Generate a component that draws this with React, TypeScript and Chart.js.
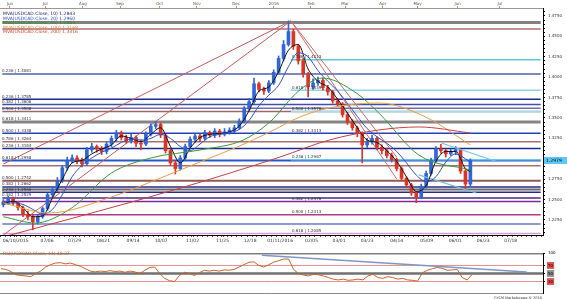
import React, { useEffect, useRef } from "react";
import { Chart, registerables } from "chart.js";

Chart.register(...registerables);

// ---------- data ----------
const candleOpen = [
  1.2440, 1.2470, 1.2510, 1.2460, 1.2400, 1.2320, 1.2290, 1.2230, 1.2290, 1.2390,
  1.2560, 1.2620, 1.2730, 1.2890, 1.2980, 1.3010, 1.2980, 1.2940, 1.3110, 1.3150,
  1.3120, 1.3090, 1.3180, 1.3250, 1.3320, 1.3260, 1.3220, 1.3260, 1.3190, 1.3180,
  1.3300, 1.3400, 1.3420, 1.3290, 1.3100, 1.2950, 1.2880, 1.3010, 1.3150, 1.3240,
  1.3280, 1.3250, 1.3320, 1.3290, 1.3340, 1.3300, 1.3330, 1.3350, 1.3380, 1.3460,
  1.3610, 1.3700, 1.3920, 1.3850, 1.3830, 1.3930, 1.4060, 1.4230, 1.4400, 1.4560,
  1.4380, 1.4200, 1.4040, 1.3880, 1.3930, 1.3960, 1.3870, 1.3820, 1.3710, 1.3670,
  1.3540, 1.3450, 1.3380, 1.3310, 1.3170, 1.3210, 1.3250, 1.3140, 1.3100, 1.3040,
  1.2990, 1.2880, 1.2760, 1.2680, 1.2580, 1.2530, 1.2660, 1.2820, 1.2980, 1.3120,
  1.3100, 1.3060, 1.3090, 1.3110, 1.2850, 1.2690,
];
const candleHigh = [
  1.2500, 1.2540, 1.2530, 1.2480, 1.2420, 1.2360, 1.2310, 1.2320, 1.2410, 1.2580,
  1.2660, 1.2770, 1.2920, 1.3020, 1.3050, 1.3040, 1.3010, 1.3140, 1.3190, 1.3170,
  1.3150, 1.3210, 1.3280, 1.3350, 1.3340, 1.3290, 1.3300, 1.3280, 1.3230, 1.3330,
  1.3430, 1.3456, 1.3440, 1.3310, 1.3120, 1.2980, 1.3040, 1.3180, 1.3270, 1.3310,
  1.3300, 1.3350, 1.3340, 1.3370, 1.3360, 1.3370, 1.3380, 1.3410, 1.3490, 1.3640,
  1.3740, 1.3990, 1.3940, 1.3880, 1.3960, 1.4090, 1.4260, 1.4450, 1.4690, 1.4590,
  1.4400, 1.4230, 1.4060, 1.3980, 1.4000, 1.3990, 1.3900, 1.3840, 1.3740, 1.3690,
  1.3570, 1.3480, 1.3400, 1.3330, 1.3250, 1.3290, 1.3270, 1.3170, 1.3130, 1.3070,
  1.3010, 1.2900, 1.2780, 1.2700, 1.2600, 1.2690, 1.2850, 1.3010, 1.3150, 1.3176,
  1.3120, 1.3120, 1.3150, 1.3120, 1.2870, 1.3000,
];
const candleLow = [
  1.2410, 1.2440, 1.2430, 1.2370, 1.2290, 1.2250, 1.2130, 1.2200, 1.2270, 1.2370,
  1.2530, 1.2600, 1.2710, 1.2860, 1.2950, 1.2940, 1.2900, 1.2920, 1.3080, 1.3080,
  1.3050, 1.3060, 1.3150, 1.3220, 1.3230, 1.3190, 1.3190, 1.3150, 1.3110, 1.3160,
  1.3280, 1.3370, 1.3260, 1.3070, 1.2920, 1.2813, 1.2860, 1.2990, 1.3120, 1.3200,
  1.3210, 1.3230, 1.3260, 1.3260, 1.3270, 1.3280, 1.3300, 1.3320, 1.3360, 1.3440,
  1.3590, 1.3680, 1.3820, 1.3790, 1.3810, 1.3910, 1.4040, 1.4200, 1.4380, 1.4340,
  1.4160, 1.4000, 1.3757, 1.3850, 1.3900, 1.3840, 1.3780, 1.3680, 1.3640, 1.3510,
  1.3420, 1.3350, 1.3270, 1.2950, 1.3140, 1.3180, 1.3110, 1.3060, 1.3010, 1.2960,
  1.2850, 1.2730, 1.2650, 1.2550, 1.2461, 1.2510, 1.2640, 1.2800, 1.2960, 1.3070,
  1.3020, 1.3040, 1.3050, 1.2820, 1.2617, 1.2670,
];
const candleClose = [
  1.2470, 1.2510, 1.2460, 1.2400, 1.2320, 1.2290, 1.2230, 1.2290, 1.2390, 1.2560,
  1.2620, 1.2730, 1.2890, 1.2980, 1.3010, 1.2980, 1.2940, 1.3110, 1.3150, 1.3120,
  1.3090, 1.3180, 1.3250, 1.3320, 1.3260, 1.3220, 1.3260, 1.3190, 1.3180, 1.3300,
  1.3400, 1.3420, 1.3290, 1.3100, 1.2950, 1.2880, 1.3010, 1.3150, 1.3240, 1.3280,
  1.3250, 1.3320, 1.3290, 1.3340, 1.3300, 1.3330, 1.3350, 1.3380, 1.3460, 1.3610,
  1.3700, 1.3920, 1.3850, 1.3830, 1.3930, 1.4060, 1.4230, 1.4400, 1.4560, 1.4380,
  1.4200, 1.4040, 1.3880, 1.3930, 1.3960, 1.3870, 1.3820, 1.3710, 1.3670, 1.3540,
  1.3450, 1.3380, 1.3310, 1.3170, 1.3210, 1.3250, 1.3140, 1.3100, 1.3040, 1.2990,
  1.2880, 1.2760, 1.2680, 1.2580, 1.2530, 1.2660, 1.2820, 1.2980, 1.3120, 1.3100,
  1.3060, 1.3090, 1.3110, 1.2850, 1.2690, 1.2979,
];

// moving averages
const maShortK = [
  0, 2, 4, 6, 8, 10, 12, 14, 16, 18, 20, 22, 24, 26, 28, 30, 32, 34, 36, 38,
  40, 42, 44, 46, 48, 50, 52, 54, 56, 58, 60, 62, 64, 66, 68, 70, 72, 74, 76, 78,
  80, 82, 84, 86, 88, 90, 92, 94, 95,
];
const ma10 = [
  1.2450, 1.2480, 1.2400, 1.2290, 1.2300, 1.2520, 1.2750, 1.2950, 1.2980, 1.3060,
  1.3120, 1.3170, 1.3280, 1.3250, 1.3210, 1.3300, 1.3380, 1.3150, 1.2950, 1.3130,
  1.3260, 1.3300, 1.3310, 1.3330, 1.3400, 1.3590, 1.3830, 1.3880, 1.4070, 1.4330,
  1.4400, 1.4100, 1.3950, 1.3880, 1.3730, 1.3560, 1.3380, 1.3230, 1.3200, 1.3100,
  1.2970, 1.2780, 1.2600, 1.2670, 1.2970, 1.3090, 1.3090, 1.2880, 1.2843,
];
const ma20 = [
  1.2440, 1.2460, 1.2440, 1.2380, 1.2320, 1.2380, 1.2560, 1.2780, 1.2920, 1.3010,
  1.3080, 1.3130, 1.3200, 1.3240, 1.3230, 1.3250, 1.3300, 1.3250, 1.3150, 1.3100,
  1.3180, 1.3270, 1.3300, 1.3320, 1.3360, 1.3470, 1.3650, 1.3780, 1.3900, 1.4130,
  1.4300, 1.4250, 1.4080, 1.3950, 1.3830, 1.3680, 1.3520, 1.3370, 1.3270, 1.3190,
  1.3090, 1.2950, 1.2800, 1.2720, 1.2780, 1.2960, 1.3060, 1.3000, 1.2960,
];
const ma55K = [0, 6.5, 13.9, 22, 30, 40, 48.8, 54.2, 60.3, 64.9, 71.8, 76.4, 84.5, 95];
const ma55 = [1.2290, 1.2213, 1.2397, 1.2826, 1.3010, 1.3108, 1.3230, 1.3450, 1.3843, 1.3990, 1.3806, 1.3560, 1.3047, 1.2863];
const ma100K = [0, 9.3, 22, 32, 40, 47.6, 54.2, 60.3, 66.3, 76.4, 85.9, 95];
const ma100 = [1.2458, 1.2336, 1.2532, 1.2765, 1.2961, 1.3145, 1.3328, 1.3512, 1.3623, 1.3684, 1.3512, 1.3169];
const ma200K = [0, 18, 36.1, 56.3, 66.3, 76.4, 84.5, 95];
const ma200 = [1.2042, 1.2336, 1.2642, 1.3022, 1.3230, 1.3353, 1.3390, 1.3316];

// horizontal levels spanning the whole chart
const fullLevels = [
  1.4670, 1.4590, 1.4040, 1.3730, 1.3665, 1.3620, 1.3580, 1.3451, 1.3313, 1.3210,
  1.3125, 1.2978, 1.2915, 1.2730, 1.2655, 1.2625, 1.2590, 1.2520, 1.2476, 1.2313,
  1.2200, 1.2085,
];
// retracement levels starting at the January peak
const midLevels = [1.4213, 1.3839, 1.3576, 1.2987];
const peakK = 58.5;

// fibonacci labels
const leftFibLevels = [1.4040, 1.3730, 1.3665, 1.3580, 1.3451, 1.3313, 1.3210, 1.3125, 1.2978, 1.2730, 1.2655, 1.2590, 1.2520];
const leftFibTexts = [
  "0.236 | 1.4081", "0.236 | 1.3785", "0.382 | 1.3606", "0.500 | 1.3508", "0.618 | 1.3411",
  "0.500 | 1.3338", "0.786 | 1.3264", "0.236 | 1.3184", "0.618 | 1.2958", "0.500 | 1.2742",
  "0.382 | 1.2662", "0.236 | 1.2560", "0.382 | 1.2529",
];
const midFibLevels = [1.4213, 1.3839, 1.3576, 1.3313, 1.2987, 1.2476, 1.2313, 1.2085];
const midFibTexts = [
  "0.786 | 1.4213", "0.618 | 1.3839", "0.500 | 1.3576", "0.382 | 1.3313",
  "0.236 | 1.2987", "0.382 | 1.2476", "0.500 | 1.2313", "0.618 | 1.2085",
];

// trend lines (pairs of points: candle index, price)
const fanA = [[0, 1.2935], [58.5, 1.4690]];
const fanB = [[0, 1.2065], [58.5, 1.4690]];
const fanD1 = [[58.5, 1.4690], [80, 1.3022]];
const fanD2 = [[58.5, 1.4690], [80, 1.2753]];
const channelUpper = [[89.1, 1.3194], [100.6, 1.2961]];
const channelLower = [[84.5, 1.2802], [96.2, 1.2581]];

const lastPrice = 1.2979;

const legendTexts = [
  "MVA(USDCAD.Close, 10) 1.2843",
  "MVA(USDCAD.Close, 20) 1.2960",
  "MVA(USDCAD.Close, 55) 1.2863",
  "MVA(USDCAD.Close, 100) 1.3169",
  "MVA(USDCAD.Close, 200) 1.3316",
];

// axes
const topTickK = [1.8, 8.9, 16.5, 24, 32, 39.5, 47.4, 55, 62.5, 69.4, 77, 84, 92.1, 100.6];
const topTickLabels = ["Jun", "Jul", "Aug", "Sep", "Oct", "Nov", "Dec", "2016", "Feb", "Mar", "Apr", "May", "Jun", "Jul"];
const bottomTickK = [2.5, 8.9, 14.5, 20.4, 26.4, 32.1, 38.5, 44.6, 50.2, 56.3, 62.7, 68.3, 74.0, 80.0, 86.1, 91.9, 97.6, 103.2];
const bottomTickLabels = [
  "06/10/2015", "07/06", "07/29", "08/21", "09/14", "10/07", "11/02", "11/25", "12/18",
  "01/11/2016", "02/05", "03/01", "03/23", "04/14", "05/09", "06/01", "06/23", "07/18",
];
const priceTicks = [1.225, 1.25, 1.275, 1.3, 1.325, 1.35, 1.375, 1.4, 1.425, 1.45, 1.475];

// RSI
const rsi = [
  62, 60, 55, 47, 45, 44, 42, 50, 56, 66,
  72, 76, 77, 74, 76, 72, 68, 62, 56, 54,
  56, 55, 57, 55, 56, 53, 56, 54, 50, 58,
  65, 66, 50, 38, 32, 30, 45, 53, 50, 45,
  52, 58, 56, 58, 56, 59, 58, 60, 66, 72,
  78, 79, 70, 66, 72, 78, 82, 86, 86, 60,
  50, 46, 44, 48, 47, 44, 40, 36, 34, 36,
  33, 34, 36, 34, 44, 48, 40, 38, 42, 40,
  36, 38, 34, 33, 31, 52, 58, 62, 65, 63,
  58, 59, 60, 40, 34, 48,
];
const rsiLevels = [100, 70, 50, 30, 0];
const rsiTicks = [100, 70, 50, 30];
const rsiTrend = [[52.6, 95.3], [106, 53.5]];
const rsiTitle = "RSI(USDCAD.Close, 14) 48.37";

// ---------- styles ----------
const X_MIN = -0.2;
const X_MAX = 109.3;
const Y_MIN = 1.2066;
const Y_MAX = 1.4848;
const FONT = '"DejaVu Sans", sans-serif';
const UP = "#2f66d8";
const DOWN = "#dc3424";

const fullLevelColors = [
  "#808080", "#b07070", "#5060b0", "#1a2a90", "#4050a8", "#7070a8", "#9a6a6a", "#858585",
  "#2a40b8", "#a87272", "#1a2a90", "#2858c8", "#a87272", "#905a5a", "#2a2a8a", "#6a6a6a",
  "#2a2a8a", "#4a2a8a", "#7a2a90", "#b03a8a", "#6a7ac8", "#d8a0d8",
];
const fullLevelWidths = [3, 1.5, 1.5, 1.5, 1.5, 1.5, 1.5, 3, 1.5, 1.5, 1.5, 2, 1.5, 2, 1.5, 2, 1.5, 1.5, 1.5, 1.5, 1.5, 1.5];
const midLevelColors = ["#5cc8e0", "#8ad8ea", "#9ee0f0", "#6cc8e4"];
const legendColors = ["#1a1a70", "#2a4ad0", "#2a8a2a", "#d08a30", "#d04030"];
const rsiLevelColors = ["#000000", "#e09090", "#707070", "#e09090", "#000000"];
const rsiLevelWidths = [1.5, 1, 2.5, 1, 1];
const rsiTickBg = ["#ffffff", "#e05050", "#909090", "#e05050"];

function seg(points: number[][], color: string, width: number, order: number) {
  return {
    type: "line",
    data: points.map((p) => ({ x: p[0], y: p[1] })),
    borderColor: color,
    borderWidth: width,
    pointRadius: 0,
    fill: false,
    order,
  };
}

function curve(ks: number[], vals: number[], color: string, width: number) {
  return {
    type: "line",
    data: ks.map((k, i) => ({ x: k, y: vals[i] })),
    borderColor: color,
    borderWidth: width,
    pointRadius: 0,
    fill: false,
    cubicInterpolationMode: "monotone",
    order: 1,
  };
}

const mainTextPlugin = {
  id: "mainTexts",
  afterDatasetsDraw(chart: any) {
    const { ctx, chartArea } = chart;
    const x = chart.scales.x;
    const y = chart.scales.y;
    ctx.save();
    ctx.textBaseline = "alphabetic";
    ctx.textAlign = "left";
    ctx.font = `4px ${FONT}`;
    ctx.fillStyle = "#333";
    leftFibLevels.forEach((v, i) => {
      ctx.fillText(leftFibTexts[i], chartArea.left + 2, y.getPixelForValue(v) - 1.5);
    });
    midFibLevels.forEach((v, i) => {
      ctx.fillText(midFibTexts[i], x.getPixelForValue(peakK) + 1, y.getPixelForValue(v) - 1.5);
    });
    ctx.font = `4.5px ${FONT}`;
    legendTexts.forEach((t, i) => {
      ctx.fillStyle = legendColors[i];
      ctx.fillText(t, chartArea.left + 3, chartArea.top + 7 + i * 4.6);
    });
    // current price box on the axis
    const py = y.getPixelForValue(lastPrice);
    ctx.fillStyle = "#5cc8f5";
    ctx.fillRect(chartArea.right + 1, py - 3.5, chart.width - chartArea.right - 1, 7);
    ctx.fillStyle = "#000";
    ctx.font = `4.5px ${FONT}`;
    ctx.textBaseline = "middle";
    ctx.fillText(lastPrice.toFixed(4), chartArea.right + 3, py + 0.3);
    ctx.restore();
  },
};

const rsiTextPlugin = {
  id: "rsiTexts",
  afterDatasetsDraw(chart: any) {
    const { ctx, chartArea } = chart;
    ctx.save();
    ctx.font = `4.5px ${FONT}`;
    ctx.fillStyle = "#c0602a";
    ctx.textBaseline = "alphabetic";
    ctx.fillText(rsiTitle, chartArea.left + 3, chartArea.top + 1.5);
    ctx.font = `3.5px ${FONT}`;
    ctx.fillStyle = "#333";
    ctx.textAlign = "right";
    ctx.fillText("FXCM Marketscope \u00a9 2016", chartArea.right - 1, chart.height - 0.5);
    ctx.restore();
  },
};

function mainConfig(): any {
  const datasets: any[] = [];
  fullLevels.forEach((v, i) => {
    datasets.push(seg([[X_MIN, v], [X_MAX, v]], fullLevelColors[i], fullLevelWidths[i], 10));
  });
  midLevels.forEach((v, i) => {
    datasets.push(seg([[peakK, v], [X_MAX, v]], midLevelColors[i], 1.5, 9));
  });
  datasets.push(seg(fanA, "#cc5a5a", 1, 8));
  datasets.push(seg(fanB, "#cc5a5a", 1, 8));
  datasets.push(seg(fanD1, "#d06a6a", 1, 8));
  datasets.push(seg(fanD2, "#d06a6a", 1, 8));
  datasets.push(seg(channelUpper, "#6cc8e0", 1.2, 2));
  datasets.push(seg(channelLower, "#6cc8e0", 1.2, 2));
  const colors = candleClose.map((c, i) => (c >= candleOpen[i] ? UP : DOWN));
  datasets.push({
    type: "bar",
    data: candleHigh.map((h, i) => ({ x: i, y: [candleLow[i], h] })),
    backgroundColor: colors,
    barThickness: 1,
    grouped: false,
    borderWidth: 0,
    order: 4,
  });
  datasets.push({
    type: "bar",
    data: candleOpen.map((o, i) => ({ x: i, y: [o, candleClose[i]] })),
    backgroundColor: colors,
    barThickness: 3,
    grouped: false,
    borderWidth: 0,
    order: 3,
  });
  datasets.push(curve(ma200K, ma200, "#c84040", 1));
  datasets.push(curve(ma100K, ma100, "#e8a040", 1));
  datasets.push(curve(ma55K, ma55, "#3a9a3a", 1));
  datasets.push(curve(maShortK, ma20, "#3050d0", 1));
  datasets.push(curve(maShortK, ma10, "#111111", 1));

  return {
    type: "line",
    data: { datasets },
    plugins: [mainTextPlugin],
    options: {
      responsive: false,
      maintainAspectRatio: false,
      animation: false,
      devicePixelRatio: 1,
      events: [],
      layout: { padding: 0 },
      plugins: { legend: { display: false }, tooltip: { enabled: false } },
      scales: {
        x: {
          type: "linear",
          position: "bottom",
          min: X_MIN,
          max: X_MAX,
          afterBuildTicks: (s: any) => {
            const t: any[] = [];
            for (let k = 0; k <= 109; k++) {
              if (!bottomTickK.some((b) => Math.abs(b - k) < 0.3)) t.push({ value: k });
            }
            bottomTickK.forEach((v) => t.push({ value: v }));
            t.sort((a, b) => a.value - b.value);
            s.ticks = t;
          },
          afterFit: (s: any) => {
            s.height = 13;
          },
          ticks: {
            autoSkip: false,
            maxRotation: 0,
            padding: 1,
            color: "#333",
            font: { size: 4.5, family: FONT },
            callback: (v: number) => {
              const i = bottomTickK.indexOf(v);
              return i >= 0 ? bottomTickLabels[i] : "";
            },
          },
          grid: { drawOnChartArea: false, drawTicks: true, tickLength: 2, color: "#555" },
          border: { display: true, color: "#000", width: 1 },
        },
        xTop: {
          type: "linear",
          position: "top",
          min: X_MIN,
          max: X_MAX,
          afterBuildTicks: (s: any) => {
            s.ticks = topTickK.map((v) => ({ value: v }));
          },
          afterFit: (s: any) => {
            s.height = 8;
          },
          ticks: {
            autoSkip: false,
            maxRotation: 0,
            padding: 0,
            color: "#555",
            font: { size: 4, family: FONT },
            callback: (_v: number, i: number) => topTickLabels[i],
          },
          grid: { drawOnChartArea: false, drawTicks: true, tickLength: 2, color: "#e0902a" },
          border: { display: true, color: "#999", width: 1 },
        },
        y: {
          type: "linear",
          position: "right",
          min: Y_MIN,
          max: Y_MAX,
          afterBuildTicks: (s: any) => {
            const t: any[] = [];
            for (let i = 0; i <= 54; i++) t.push({ value: 1.21 + i * 0.005 });
            s.ticks = t;
          },
          afterFit: (s: any) => {
            s.width = 24;
          },
          ticks: {
            autoSkip: false,
            padding: 3,
            color: "#333",
            font: { size: 4, family: FONT },
            callback: (v: number) => {
              const m = priceTicks.find((p) => Math.abs(p - v) < 1e-6);
              return m !== undefined ? m.toFixed(4) : "";
            },
          },
          grid: { drawOnChartArea: false, drawTicks: true, tickLength: 2, color: "#000" },
          border: { display: true, color: "#000", width: 1 },
        },
      },
    },
  };
}

function rsiConfig(): any {
  const datasets: any[] = [];
  rsiLevels.forEach((v, i) => {
    datasets.push(seg([[X_MIN, v], [X_MAX, v]], rsiLevelColors[i], rsiLevelWidths[i], 5));
  });
  datasets.push(seg(rsiTrend, "#8095c8", 1.5, 3));
  datasets.push({
    type: "line",
    data: rsi.map((r, i) => ({ x: i, y: r })),
    borderColor: "#c8642a",
    borderWidth: 1,
    pointRadius: 0,
    fill: false,
    order: 1,
  });
  return {
    type: "line",
    data: { datasets },
    plugins: [rsiTextPlugin],
    options: {
      responsive: false,
      maintainAspectRatio: false,
      animation: false,
      devicePixelRatio: 1,
      events: [],
      layout: { padding: { top: 5, bottom: 3, left: 0, right: 0 } },
      plugins: { legend: { display: false }, tooltip: { enabled: false } },
      scales: {
        x: { type: "linear", display: false, min: X_MIN, max: X_MAX },
        y: {
          type: "linear",
          position: "right",
          min: 0,
          max: 100,
          afterBuildTicks: (s: any) => {
            s.ticks = rsiTicks.map((v) => ({ value: v }));
          },
          afterFit: (s: any) => {
            s.width = 24;
          },
          ticks: {
            autoSkip: false,
            padding: 3,
            color: "#000",
            font: { size: 4, family: FONT },
            showLabelBackdrop: true,
            backdropPadding: 1,
            backdropColor: (c: any) => rsiTickBg[c.index] || "#fff",
            callback: (v: number) => String(v),
          },
          grid: { drawOnChartArea: false, drawTicks: true, tickLength: 2, color: "#000" },
          border: { display: true, color: "#000", width: 1 },
        },
      },
    },
  };
}

export default function App() {
  const mainRef = useRef<HTMLCanvasElement>(null);
  const rsiRef = useRef<HTMLCanvasElement>(null);
  useEffect(() => {
    const c1 = new Chart(mainRef.current as HTMLCanvasElement, mainConfig());
    const c2 = new Chart(rsiRef.current as HTMLCanvasElement, rsiConfig());
    return () => {
      c1.destroy();
      c2.destroy();
    };
  }, []);
  return (
    <div
      style={{
        position: "fixed",
        left: 0,
        top: 0,
        width: 567,
        height: 299,
        background: "#fff",
        overflow: "hidden",
      }}
    >
      <canvas ref={mainRef} width={567} height={248} style={{ position: "absolute", left: 0, top: 0 }} />
      <canvas ref={rsiRef} width={567} height={51} style={{ position: "absolute", left: 0, top: 248 }} />
    </div>
  );
}
